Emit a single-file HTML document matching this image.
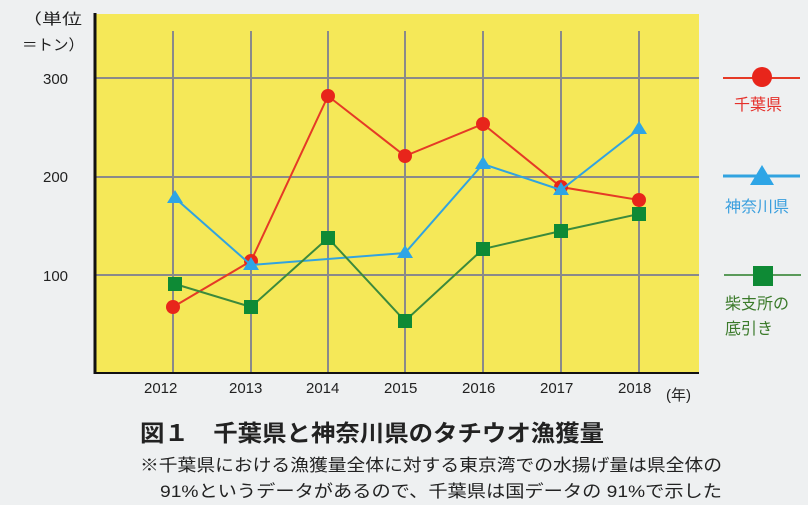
<!DOCTYPE html><html><head><meta charset="utf-8"><style>
body{margin:0;width:808px;height:500px;background:#eef0f1;overflow:hidden}
text{font-family:"Liberation Sans","Noto Sans CJK JP",sans-serif}
</style></head><body>
<svg width="808" height="500" xmlns="http://www.w3.org/2000/svg">
<rect x="96" y="14" width="603" height="359" fill="#f5e858"/>
<g stroke="#8a8a8a" stroke-width="2">
<line x1="173" y1="31" x2="173" y2="373"/><line x1="251" y1="31" x2="251" y2="373"/><line x1="328" y1="31" x2="328" y2="373"/><line x1="405" y1="31" x2="405" y2="373"/><line x1="483" y1="31" x2="483" y2="373"/><line x1="561" y1="31" x2="561" y2="373"/><line x1="639" y1="31" x2="639" y2="373"/>
<line x1="96" y1="78" x2="699" y2="78"/><line x1="96" y1="177" x2="699" y2="177"/><line x1="96" y1="275" x2="699" y2="275"/>
</g>
<line x1="95" y1="13" x2="95" y2="374" stroke="#111" stroke-width="3"/>
<line x1="94" y1="373" x2="699" y2="373" stroke="#111" stroke-width="2"/>
<g font-size="15" fill="#222">
<text x="22" y="24" textLength="60" lengthAdjust="spacingAndGlyphs">（単位</text><text x="22" y="50" textLength="62" lengthAdjust="spacingAndGlyphs">＝トン）</text>
<text x="43" y="84">300</text><text x="43" y="182">200</text><text x="43" y="281">100</text>
<text x="144" y="393">2012</text><text x="229" y="393">2013</text><text x="306" y="393">2014</text><text x="384" y="393">2015</text><text x="462" y="393">2016</text><text x="540" y="393">2017</text><text x="618" y="393">2018</text><text x="666" y="400">(年)</text>
</g>
<polyline fill="none" stroke="#e53a26" stroke-width="2" points="173,307 251,261 328,96 405,156 483,124 561,187 639,200"/>
<g fill="#e8251b"><circle cx="173" cy="307" r="7"/><circle cx="251" cy="261" r="7"/><circle cx="328" cy="96" r="7"/><circle cx="405" cy="156" r="7"/><circle cx="483" cy="124" r="7"/><circle cx="561" cy="187" r="7"/><circle cx="639" cy="200" r="7"/></g>
<polyline fill="none" stroke="#31a3e0" stroke-width="2" points="175,198 251,265 405,253 483,164 561,190 639,129"/>
<g fill="#2ea5e6"><path d="M175,190l8,13h-16z"/><path d="M251,257l8,13h-16z"/><path d="M405,245l8,13h-16z"/><path d="M483,156l8,13h-16z"/><path d="M561,182l8,13h-16z"/><path d="M639,121l8,13h-16z"/></g>
<polyline fill="none" stroke="#3c8a3c" stroke-width="2" points="175,284 251,307 328,238 405,321 483,249 561,231 639,214"/>
<g fill="#0e8a35"><rect x="168" y="277" width="14" height="14"/><rect x="244" y="300" width="14" height="14"/><rect x="321" y="231" width="14" height="14"/><rect x="398" y="314" width="14" height="14"/><rect x="476" y="242" width="14" height="14"/><rect x="554" y="224" width="14" height="14"/><rect x="632" y="207" width="14" height="14"/></g>
<line x1="723" y1="78" x2="800" y2="78" stroke="#e53a26" stroke-width="2"/><circle cx="762" cy="77" r="10" fill="#e8251b"/>
<text x="734" y="110" font-size="16" fill="#e5302a">千葉県</text>
<line x1="723" y1="176" x2="800" y2="176" stroke="#31a3e0" stroke-width="3"/><path d="M762,165l12,20h-24z" fill="#2ea5e6"/>
<text x="725" y="212" font-size="16" fill="#3a9fde">神奈川県</text>
<line x1="724" y1="275" x2="801" y2="275" stroke="#5a9a5a" stroke-width="2"/><rect x="753" y="266" width="20" height="20" fill="#0e8a35"/>
<text x="725" y="309" font-size="16" fill="#3a7a2a">柴支所の</text>
<text x="725" y="334" font-size="16" fill="#3a7a2a">底引き</text>
<text x="140" y="441" font-size="23" font-weight="bold" fill="#222" textLength="464" lengthAdjust="spacingAndGlyphs">図１　千葉県と神奈川県のタチウオ漁獲量</text>
<text x="140" y="471" font-size="17" fill="#222" textLength="582" lengthAdjust="spacingAndGlyphs">※千葉県における漁獲量全体に対する東京湾での水揚げ量は県全体の</text>
<text x="160" y="497" font-size="17" fill="#222" textLength="562" lengthAdjust="spacingAndGlyphs">91%というデータがあるので、千葉県は国データの 91%で示した</text>
</svg>
</body></html>
